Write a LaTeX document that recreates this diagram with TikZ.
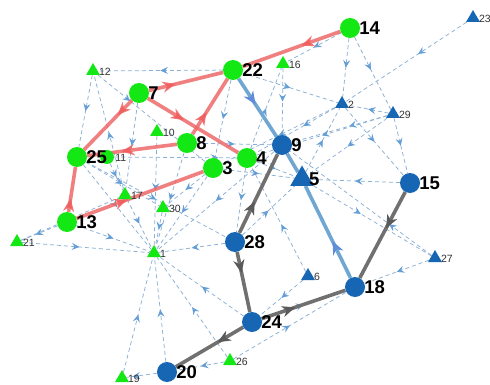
\documentclass[tikz,border=0pt]{standalone}
\usepackage{fontspec}
\setmainfont{Liberation Sans}
\usetikzlibrary{shapes.geometric,decorations.markings,arrows.meta}
\pgfdeclarelayer{edgelayer}
\pgfsetlayers{edgelayer,main}
\definecolor{gcol}{RGB}{20,232,20}
\definecolor{bcol}{RGB}{22,102,180}
\definecolor{redc}{RGB}{238,105,105}
\definecolor{grayc}{RGB}{112,112,112}
\definecolor{lbc}{RGB}{112,166,210}
\definecolor{dcol}{RGB}{140,176,212}
\definecolor{darr}{RGB}{100,158,215}
\newcommand{\bigf}{\fontsize{18.5}{20}\selectfont\bfseries}
\newcommand{\smf}{\fontsize{10.5}{12}\selectfont}
\tikzset{
  gc/.style={circle, fill=gcol, minimum size=20pt, inner sep=0pt},
  bc/.style={circle, fill=bcol, minimum size=20pt, inner sep=0pt},
  gt/.style={regular polygon, regular polygon sides=3, fill=gcol, minimum size=16pt, inner sep=0pt},
  bt/.style={regular polygon, regular polygon sides=3, fill=bcol, minimum size=16pt, inner sep=0pt},
  bigtri/.style={regular polygon, regular polygon sides=3, fill=bcol, minimum size=27pt, inner sep=0pt},
  bl/.style={label={[font=\bigf, text=black, inner sep=0pt, xshift=-1pt]right:#1}},
  sl/.style={label={[font=\smf, text=black!80, inner sep=0pt, xshift=1pt, yshift=-1pt]right:#1}},
  dedge/.style={draw=dcol, dash pattern=on 4pt off 3pt, line width=0.75pt,
    postaction={decorate, solid, decoration={markings, mark=at position #1 with {\arrow[darr]{Stealth[length=7.5pt,width=7pt,inset=2.8pt]}}}}},
  dedge/.default=0.5,
  redge/.style={draw=redc, draw opacity=0.85, line width=3.6pt,
    postaction={decorate, decoration={markings, mark=at position #1 with {\arrow[redc!90!red]{Stealth[length=13pt,width=11pt,inset=4pt]}}}}},
  redge/.default=0.4,
  gedge/.style={draw=grayc, line width=3.6pt,
    postaction={decorate, decoration={markings, mark=at position #1 with {\arrow[grayc!80!black]{Stealth[length=13pt,width=11pt,inset=4pt]}}}}},
  gedge/.default=0.4,
  bedge/.style={draw=lbc, line width=3.6pt,
    postaction={decorate, decoration={markings, mark=at position #1 with {\arrow[lbc!85!blue]{Stealth[length=13pt,width=11pt,inset=4pt]}}}}},
  bedge/.default=0.4,
}
\begin{document}
\begin{tikzpicture}[x=1pt,y=-1pt]
\useasboundingbox (0,0) rectangle (490,385);
\path
  (350,28)  node[gc, bl=14] (n14) {}
  (473,18)  node[bt, sl=23] (n23) {}
  (233,70)  node[gc, bl=22] (n22) {}
  (283,64)  node[gt, sl=16] (n16) {}
  (93,71)   node[gt, sl=12] (n12) {}
  (139,93)  node[gc, bl=7] (n7) {}
  (342,104) node[bt, sl=2] (n2) {}
  (393,114) node[bt, sl=29] (n29) {}
  (157,132) node[gt, sl=10] (n10) {}
  (187,143) node[gc, bl=8] (n8) {}
  (282,145) node[bc, bl=9] (n9) {}
  (107,157) node[gc, minimum size=14pt, sl=11] (n11) {}
  (77,157)  node[gc, bl=25] (n25) {}
  (247,158) node[gc, bl=4] (n4) {}
  (213,168) node[gc, bl=3] (n3) {}
  (302,179) node[bigtri, bl=5] (n5) {}
  (410,183) node[bc, bl=15] (n15) {}
  (125,195) node[gt, sl=17] (n17) {}
  (163,208) node[gt, sl=30] (n30) {}
  (67,222)  node[gc, bl=13] (n13) {}
  (17,242)  node[gt, sl=21] (n21) {}
  (154,253) node[gt, sl=1] (n1) {}
  (235,242) node[bc, bl=28] (n28) {}
  (435,258) node[bt, sl=27] (n27) {}
  (308,276) node[bt, sl=6] (n6) {}
  (355,287) node[bc, bl=18] (n18) {}
  (252,322) node[bc, bl=24] (n24) {}
  (230,361) node[gt, sl=26] (n26) {}
  (122,378) node[gt, sl=19] (n19) {}
  (167,372) node[bc, bl=20] (n20) {};
\begin{pgfonlayer}{edgelayer}
\fill[white] (0,0) rectangle (490,385);
% dashed edges
\draw[dedge] (n22) -- (n12);
\draw[dedge] (n12) -- (n25);
\draw[dedge] (n17) -- (n12);
\draw[dedge=0.3] (n12) -- (n3);
\draw[dedge] (n7) -- (n17);
\draw[dedge] (n10) -- (n1);
\draw[dedge=0.85] (n11) -- (n4);
\draw[dedge] (n14) -- (n16);
\draw[dedge] (n14) -- (n2);
\draw[dedge=0.45] (n14) -- (n29);
\draw[dedge] (n29) -- (n15);
\draw[dedge] (n2) -- (n15);
\draw[dedge=0.4] (n23) -- (n2);
\draw[dedge] (n22) -- (n2);
\draw[dedge=0.4] (n2) -- (n4);
\draw[dedge=0.4] (n29) -- (n9);
\draw[dedge] (n29) -- (n2);
\draw[dedge] (n5) -- (n2);
\draw[dedge] (n29) -- (n5);
\draw[dedge] (n15) -- (n5);
\draw[dedge=0.4] (n5) -- (n27);
\draw[dedge=0.3] (n27) -- (n9);
\draw[dedge] (n27) -- (n18);
\draw[dedge=0.45] (n6) -- (n4);
\draw[dedge] (n6) -- (n24);
\draw[dedge=0.5] (n26) -- (n18);
\draw[dedge] (n24) -- (n18);
\draw[dedge=0.8] (n20) -- (n19);
\draw[dedge] (n26) -- (n20);
\draw[dedge] (n19) -- (n1);
\draw[dedge] (n20) -- (n1);
\draw[dedge] (n26) -- (n1);
\draw[dedge] (n24) -- (n1);
\draw[dedge] (n28) -- (n1);
\draw[dedge=0.45] (n21) -- (n1);
\draw[dedge=0.6] (n13) -- (n21);
\draw[dedge] (n21) -- (n17);
\draw[dedge] (n13) -- (n1);
\draw[dedge] (n25) -- (n1);
\draw[dedge] (n17) -- (n1);
\draw[dedge] (n30) -- (n1);
\draw[dedge] (n3) -- (n1);
\draw[dedge] (n9) -- (n1);
\draw[dedge] (n8) -- (n1);
\draw[dedge] (n25) -- (n30);
\draw[dedge] (n16) -- (n9);
\draw[dedge] (n4) -- (n16);
\draw[dedge] (n8) -- (n9);
\draw[dedge] (n3) -- (n5);
\draw[dedge] (n4) -- (n5);
\draw[dedge] (n28) -- (n5);
\draw[dedge] (n2) -- (n3);
\draw[dedge] (n29) -- (n4);
\draw[dedge] (n11) -- (n17);
\draw[dedge] (n3) -- (n30);
\draw[dedge] (n22) -- (n3);
\draw[dedge] (n4) -- (n28);
\draw[dedge] (n25) -- (n28);
% thick edges
\draw[bedge=0.45] (n22) -- (n9);
\draw[draw=lbc, line width=3.6pt] (n9) -- (n5);
\draw[bedge] (n18) -- (n5);
\draw[redge] (n14) -- (n22);
\draw[redge=0.36] (n7) -- (n22);
\draw[redge=0.3] (n7) -- (n25);
\draw[redge] (n7) -- (n4);
\draw[redge] (n8) -- (n22);
\draw[redge=0.62] (n8) -- (n25);
\draw[redge=0.3] (n13) -- (n25);
\draw[redge] (n13) -- (n3);
\draw[gedge] (n28) -- (n9);
\draw[gedge=0.35] (n28) -- (n24);
\draw[gedge=0.42] (n15) -- (n18);
\draw[gedge] (n24) -- (n18);
\draw[gedge=0.38] (n24) -- (n20);
\end{pgfonlayer}
\end{tikzpicture}
\end{document}
